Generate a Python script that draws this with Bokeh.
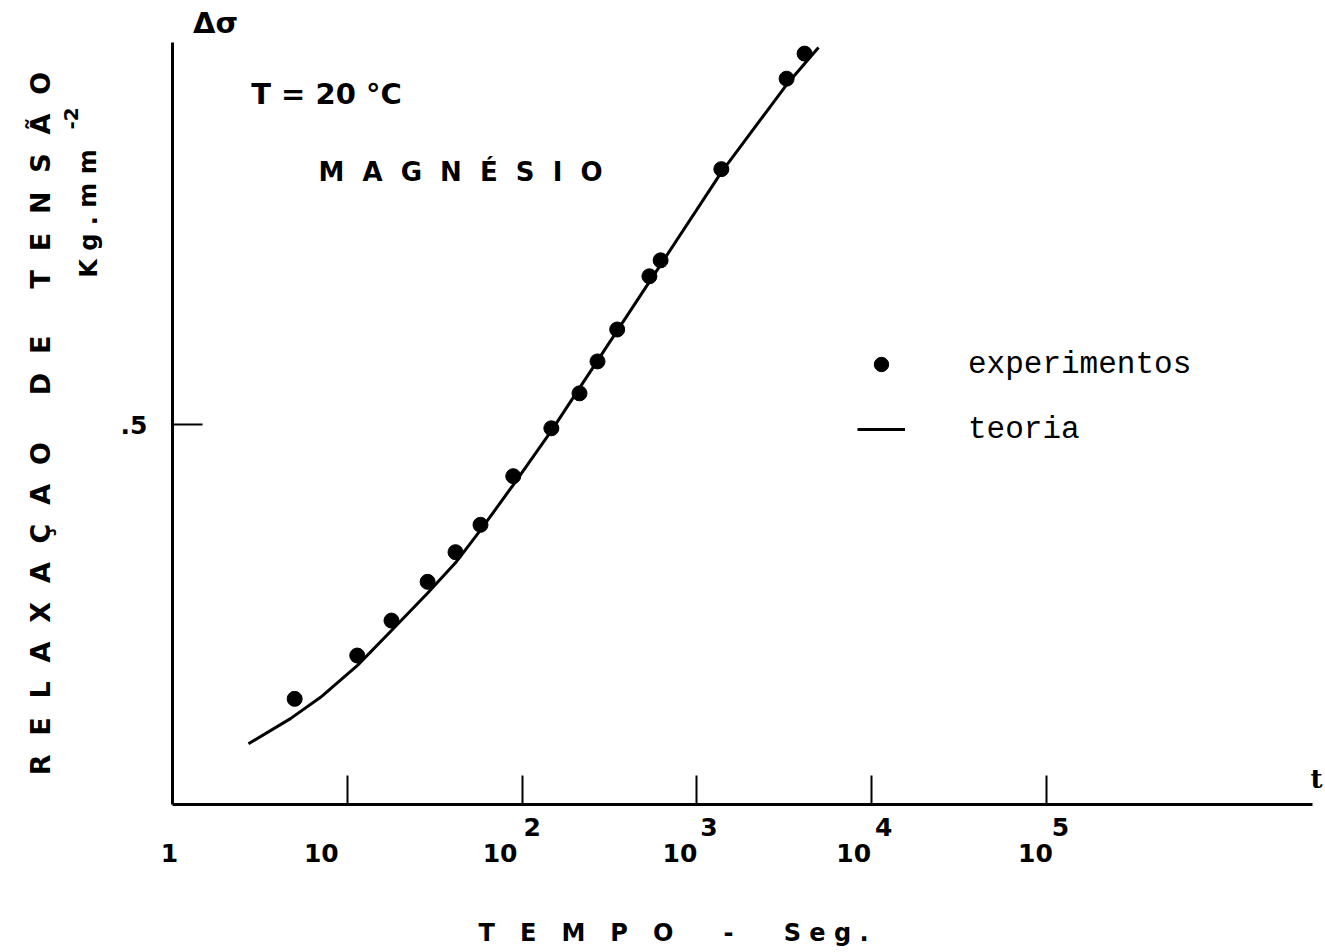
from bokeh.plotting import figure
from bokeh.models import (ColumnDataSource, FixedTicker, Label, LabelSet,
                          Legend, LegendItem)
from bokeh.core.properties import value
from bokeh.embed import file_html
from bokeh.resources import INLINE

# ---------------- data ----------------
t_exp = [5.0, 11.4, 17.9, 28.8, 41.6, 57.8, 89.0, 147.0, 213.0, 270.0,
         350.0, 535.0, 620.0, 1380.0, 3260.0, 4130.0]
dsig_exp = [0.139, 0.196, 0.242, 0.293, 0.332, 0.368, 0.432, 0.495, 0.541,
            0.583, 0.625, 0.695, 0.716, 0.836, 0.955, 0.988]

t_fit = [2.72, 4.73, 7.03, 11.44, 17.9, 28.76, 41.59, 57.81, 89.31, 147.3,
         280.9, 542.8, 1382.0, 3255.0, 4963.0]
dsig_fit = [0.080, 0.113, 0.141, 0.183, 0.229, 0.278, 0.318, 0.361, 0.421,
            0.492, 0.590, 0.690, 0.832, 0.947, 0.996]

x_tick_values = [1, 10, 100, 1000, 10000, 100000]
x_tick_base = ["1", "10", "10", "10", "10", "10"]
x_tick_exp = ["", "", "2", "3", "4", "5"]
y_tick_values = [0.5]
y_tick_labels = [".5"]

series_names = ["experimentos", "teoria"]

# ---------------- layout ----------------
W, H = 1324, 950
FL, FR, FT, FB = 172, 1312, 42, 804      # axis extents in page pixels
DEC = 174.8                               # pixels per decade
YPX = 760.0                               # pixels per stress unit


def xd(px):
    return 10 ** ((px - FL) / DEC)


def yd(py):
    return (FB - py) / YPX


BOLD = "DejaVu Sans"
NB = "\u00a0"


def spaced(word, n=2):
    return (NB * n).join(word)


p = figure(width=W, height=H, x_axis_type="log",
           x_range=(xd(0), xd(W)), y_range=(yd(H), yd(0)),
           output_backend="svg", toolbar_location=None,
           min_border=0, min_border_left=0, min_border_right=0,
           min_border_top=0, min_border_bottom=0)
p.outline_line_color = None
p.xgrid.visible = False
p.ygrid.visible = False
p.background_fill_color = "white"
p.border_fill_color = "white"

# x axis (drawn at y = 0, from t = 1 to the end of the line)
xa = p.xaxis[0]
xa.fixed_location = 0
xa.bounds = (1, xd(FR))
xa.ticker = FixedTicker(ticks=x_tick_values[1:])
xa.axis_line_width = 3
xa.axis_line_color = "black"
xa.major_tick_in = 29
xa.major_tick_out = 0
xa.major_tick_line_width = 2
xa.minor_tick_line_color = None
xa.major_label_text_color = None

# y axis (drawn at t = 1)
ya = p.yaxis[0]
ya.fixed_location = 1
ya.bounds = (0, yd(FT))
ya.ticker = FixedTicker(ticks=y_tick_values)
ya.major_label_overrides = {v: s for v, s in zip(y_tick_values, y_tick_labels)}
ya.axis_line_width = 3
ya.axis_line_color = "black"
ya.major_tick_in = 30
ya.major_tick_out = 0
ya.major_tick_line_width = 2
ya.minor_tick_line_color = None
ya.major_label_standoff = 25
ya.major_label_text_font = BOLD
ya.major_label_text_font_style = "bold"
ya.major_label_text_font_size = "25px"
ya.major_label_text_color = "black"
ya.axis_label = (NB * 5).join(spaced(w) for w in ["RELAXAÇAO", "DE", "TENSÃO"])
ya.axis_label_text_font = BOLD
ya.axis_label_text_font_style = "bold"
ya.axis_label_text_font_size = "27px"
ya.axis_label_text_color = "black"
ya.axis_label_standoff = 62

# glyphs
line_r = p.line(t_fit, dsig_fit, line_color="black", line_width=3)
pts_r = p.scatter(t_exp, dsig_exp, size=15, marker="circle",
                  fill_color="black", line_color="black")

# x tick labels (base + exponent)
base_src = ColumnDataSource(dict(x=x_tick_values, y=[yd(852)] * len(x_tick_values),
                                 text=x_tick_base, dx=[-3, -26, -22, -17, -18, -11]))
p.add_layout(LabelSet(source=base_src, x="x", y="y", text="text", x_offset="dx",
                      text_align="center", text_baseline="middle",
                      text_font=value(BOLD), text_font_style="bold",
                      text_font_size=value("25px"), text_color="black"))
exp_idx = [i for i, e in enumerate(x_tick_exp) if e]
exp_src = ColumnDataSource(dict(x=[x_tick_values[i] for i in exp_idx],
                                y=[yd(826)] * len(exp_idx),
                                text=[x_tick_exp[i] for i in exp_idx],
                                dx=[10, 12, 12, 14]))
p.add_layout(LabelSet(source=exp_src, x="x", y="y", text="text", x_offset="dx",
                      text_align="center", text_baseline="middle",
                      text_font=value(BOLD), text_font_style="bold",
                      text_font_size=value("25px"), text_color="black"))


def lab(text, px, py, size, align="center", angle=0.0, font=BOLD, style="bold"):
    p.add_layout(Label(x=xd(px), y=yd(py), text=text, text_align=align,
                       text_baseline="middle", angle=angle,
                       text_font=font, text_font_style=style,
                       text_font_size=size, text_color="black"))


lab("Δσ", 215, 22, "29px")
lab("T" + NB + "=" + NB + "20" + NB + "°C", 326, 93, "29px")
lab(spaced("MAGNÉSIO"), 460, 171, "26px")
lab(spaced("TEMPO", 3) + NB * 6 + "-" + NB * 6 + spaced("Seg.", 1), 478, 932,
    "24px", align="left")
lab("t", 1316, 778, "26px", font="DejaVu Serif")
lab(spaced("Kg.mm", 1), 88, 213, "24px", angle=1.5708)
lab("-2", 70, 118, "20px", angle=1.5708)

# legend
legend = Legend(items=[LegendItem(label=series_names[0], renderers=[pts_r]),
                       LegendItem(label=series_names[1], renderers=[line_r])],
                location=(857, H - 447),
                glyph_width=48, glyph_height=36, label_height=36,
                label_standoff=63, spacing=29, padding=0, margin=0,
                border_line_color=None, background_fill_alpha=0,
                label_text_font="Liberation Mono", label_text_font_size="31px",
                label_text_color="black")
p.add_layout(legend)

open("out.html", "w").write(file_html(p, INLINE))
